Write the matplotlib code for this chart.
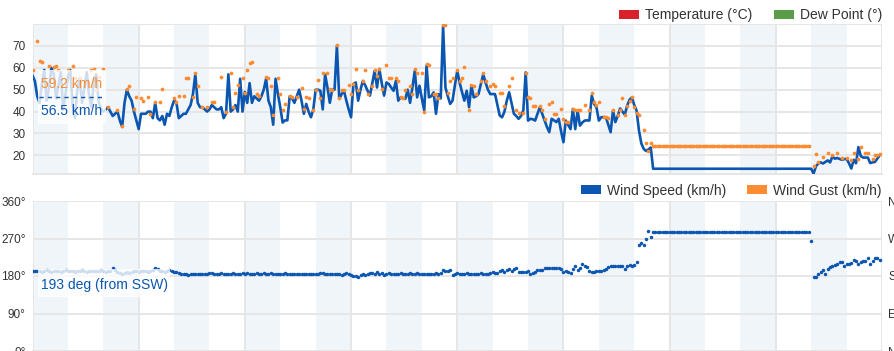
import numpy as np
import matplotlib.pyplot as plt
from matplotlib.patches import Rectangle
from matplotlib.lines import Line2D

plt.rcParams['font.family'] = ['Liberation Sans', 'DejaVu Sans']

STEP_H = 0.8          # hours between readings
SPAN_H = 288          # 12 days shown
N = None              # no gust reported

wind_speed = [
    56.5, 54, 47, 44, 53, 59, 45, 51, 60, 57,
    46, 52, 58, 41, 48, 56, 59, 43, 37, 50,
    55, 44, 51, 58, 47, 42, 54, 57, 45, 41,
    40, 41, 42, 40, 38, 39, 40, 36, 33, 44,
    50, 47, 45, 40, 36, 32, 39, 39, 39, 40,
    40, 37, 44, 37, 36, 38, 34, 39, 38, 42,
    45, 44, 37, 38, 39, 39, 41, 43, 48, 57,
    44, 42, 42, 41, 40, 41, 43, 42, 41, 41,
    42, 37, 39, 57, 40, 41, 43, 40, 55, 40,
    49, 44, 53, 44, 47, 46, 45, 47, 50, 55,
    45, 42, 34, 55, 48, 42, 35, 36, 36, 47,
    46, 44, 47, 50, 45, 39, 43.5, 40, 37.4, 41,
    50, 50, 49.5, 41, 57, 51, 44, 50, 50, 70,
    45.8, 48, 49.5, 45, 41, 37.4, 52.6, 53.3, 45, 50,
    54, 52, 49.5, 47.3, 53, 58.6, 51, 59.4, 53, 47.3,
    53.3, 52.6, 51, 49.5, 54, 45, 46.5, 46, 45.8, 50,
    44, 51, 58.6, 46.5, 51.8, 46, 40.5, 61, 46.5, 47,
    48.8, 39, 48, 46, 79, 51, 47, 43.5, 45, 52,
    58.6, 53.3, 49, 45, 49.5, 42, 51.8, 46.5, 47, 48,
    52.6, 57, 53.3, 50, 48, 48, 48, 43, 38.2, 37.4,
    40, 45, 48.8, 44, 39, 38, 36.7, 38, 40.5, 57.9,
    35.9, 36.7, 36.5, 35.9, 39, 42, 39, 35.9, 33, 30.6,
    36.7, 36, 35.2, 36.7, 31, 26, 35.9, 34, 32, 41.2,
    32, 40.5, 33.6, 35, 35.9, 36, 35.9, 47.3, 43.5, 42,
    35.9, 37.4, 37.5, 37.4, 34, 30.6, 40.5, 35.2, 38, 41.4,
    40, 38.6, 42.7, 45.4, 46.5, 43, 40.5, 31.4, 25.5, 23,
    22, 22.7, 23.6, 13.9, 13.9, 13.9, 13.9, 13.9, 13.9, 13.9,
    13.9, 13.9, 13.9, 13.9, 13.9, 13.9, 13.9, 13.9, 13.9, 13.9,
    13.9, 13.9, 13.9, 13.9, 13.9, 13.9, 13.9, 13.9, 13.9, 13.9,
    13.9, 13.9, 13.9, 13.9, 13.9, 13.9, 13.9, 13.9, 13.9, 13.9,
    13.9, 13.9, 13.9, 13.9, 13.9, 13.9, 13.9, 13.9, 13.9, 13.9,
    13.9, 13.9, 13.9, 13.9, 13.9, 13.9, 13.9, 13.9, 13.9, 13.9,
    13.9, 13.9, 13.9, 13.9, 13.9, 13.9, 13.9, 13.9, 13.9, 13.9,
    13.9, 11.7, 15, 16.3, 16.8, 16.3, 17, 17.7, 16.8, 19.5,
    18.5, 18.8, 18.4, 18, 18.3, 18.4, 16.4, 14, 18, 16.4,
    23.8, 19.7, 19, 19, 19, 16.5, 16.8, 17, 18.5, 20,
]

wind_gust = [
    59.2, N, 72.3, 63, 62.7, N, N, 61, N, 60.4,
    61, 59, N, N, N, 59, N, 61, 55.5, N,
    55.5, N, N, N, N, 59, 59.4, 49.7, 55.9, N,
    59.4, N, 42.3, N, N, N, 40.8, N, 33.6, N,
    50.2, 51.8, N, 41.2, 46.5, N, 46.2, 45, N, 46.5,
    39, N, 44.2, N, 44.2, 50.3, N, N, N, N,
    46.2, 44.2, 47, N, 47, 55.3, 55.3, N, 46.5, 57.4,
    51.8, N, 42.3, N, 42.3, N, 44.2, 44.2, N, N,
    55.9, N, 39.7, N, 57.4, 42.3, 48.3, 52.3, N, 55.3,
    48.3, 59, 62.3, 62.7, N, 48, 47.3, N, N, 55.6,
    55.3, 51.8, 38.6, N, 55.3, 48, 40.5, 43.3, N, 47.3,
    46.5, N, 46.5, N, 50.8, 41.2, 46.5, 46.2, N, 40.8,
    49.8, 54.4, 46.2, 57.6, N, 57.6, 50.3, 50, N, 70.3,
    46.2, 49.8, 49.8, N, 52.3, 48, 52.6, 59.4, 49.8, N,
    54, 59, 48, N, 51.8, 59, 56.4, 59.4, 50.3, N,
    61.2, 55.3, 55.3, N, 55.3, 53.8, 46.5, 46.2, 49.8, N,
    51.8, 48, 59.4, 57.6, N, 57.6, 39.7, 61.7, 61.4, N,
    48, 48, 46.2, N, 79.4, 79.5, 48.5, 54, 55.3, N,
    59, 53.8, 55.3, 60.2, N, 40.9, 52.3, 51.8, 48, N,
    53.8, 57.6, 53.8, N, 51.8, 52.6, 51.8, N, 48.3, 48.5,
    42.4, N, 51.8, 55.3, N, 40.8, 39.2, N, 39.2, 57.6,
    46.5, 46.2, 42.4, 42.4, N, 42.4, 40.8, 36.7, N, 43.5,
    44.5, 38.9, 38.9, N, 41.2, 36.7, 35.2, 35.2, N, 41.2,
    40.8, 40.8, 40.8, N, 43.2, N, 40.9, 48.5, 44.2, 43.2,
    44.5, N, 37.4, 37.4, 37, N, 40.9, N, 38.5, 40.9,
    46.2, 38.5, 42.7, 44.7, 46.5, 42, 39.2, 38.6, N, 31.4,
    25.8, 22, 25.8, 24.2, 24.2, 24.2, 24.2, 24.2, 24.2, 24.2,
    24.2, 24.2, 24.2, 24.2, 24.2, 24.2, 24.2, 24.2, 24.2, 24.2,
    24.2, 24.2, 24.2, 24.2, 24.2, 24.2, 24.2, 24.2, 24.2, 24.2,
    24.2, 24.2, 24.2, 24.2, 24.2, 24.2, 24.2, 24.2, 24.2, 24.2,
    24.2, 24.2, 24.2, 24.2, 24.2, 24.2, 24.2, 24.2, 24.2, 24.2,
    24.2, 24.2, 24.2, 24.2, 24.2, 24.2, 24.2, 24.2, 24.2, 24.2,
    24.2, 24.2, 24.2, 24.2, 24.2, 24.2, 24.2, 24.2, 24.2, 24.2,
    N, 15, 20.5, 17, N, 19.2, N, 21, N, 20,
    N, 21, N, 19, N, 19, N, 18, 21, N,
    18.5, 23.8, N, 21, 21, N, 18.5, 20, 20, 20.5,
]

wind_dir = [
    193, 192, 191, 193, 190, 192, 194, 191, 190, 192,
    193, 191, 190, 192, 194, 193, 191, 192, 190, 191,
    193, 194, 192, 190, 191, 193, 192, 191, 193, 194,
    192, 190, 191, 193, 200, 194, 190, 188, 186, 187,
    189, 187, 190, 192, 191, 190, 192, 193, 191, 190,
    192, 195, 199, 196, 191, 193, 190, 192, 195, 191,
    190, 189, 188, 186, 186, 185, 183, 185, 186, 185,
    185, 186, 185, 186, 186, 187, 188, 186, 186, 185,
    187, 186, 185, 186, 186, 187, 186, 184, 186, 187,
    186, 187, 186, 185, 186, 187, 185, 184, 187, 186,
    186, 188, 186, 185, 186, 184, 186, 187, 185, 185,
    186, 186, 185, 185, 186, 184, 186, 185, 186, 185,
    186, 186, 187, 188, 185, 186, 186, 186, 184, 186,
    186, 183, 185, 187, 185, 183, 181, 180, 178, 182,
    186, 183, 185, 187, 187, 186, 189, 185, 187, 182,
    186, 187, 186, 186, 185, 185, 187, 186, 185, 186,
    187, 185, 186, 187, 186, 186, 185, 185, 186, 186,
    186, 188, 186, 187, 194, 192, 193, 194, 183, 186,
    187, 186, 185, 186, 187, 186, 185, 186, 185, 186,
    187, 186, 185, 186, 187, 189, 187, 188, 192, 195,
    189, 194, 197, 193, 196, 200, 190, 189, 190, 190,
    191, 185, 188, 190, 194, 195, 194, 199, 200, 200,
    199, 200, 200, 199, 197, 190, 191, 189, 188, 196,
    203, 194, 200, 208, 203, 201, 193, 190, 190, 191,
    191, 193, 194, 197, 202, 204, 205, 204, 205, 204,
    205, 198, 205, 207, 205, 207, 213, 254, 260, 254,
    270, 289, 274, 286, 286, 286, 286, 286, 286, 286,
    286, 286, 286, 286, 286, 286, 286, 286, 286, 286,
    286, 286, 286, 286, 286, 286, 286, 286, 286, 286,
    286, 286, 286, 286, 286, 286, 286, 286, 286, 286,
    286, 286, 286, 286, 286, 286, 286, 286, 286, 286,
    286, 286, 286, 286, 286, 286, 286, 286, 286, 286,
    286, 286, 286, 286, 286, 286, 286, 286, 286, 286,
    264, 178, 178, 184, 190, 194, 185, 198, 202, 205,
    206, 209, 213, 213, 205, 208, 209, 212, 218, 216,
    210, 214, 216, 217, 224, 210, 216, 224, 224, 218,
]

speed_ticks = [20, 30, 40, 50, 60, 70, 80]
speed_ticklabels = ['20', '30', '40', '50', '60', '70', '']
dir_ticks = [0, 90, 180, 270, 360]
dir_ticklabels = ['0°', '90°', '180°', '270°', '360°']
compass_labels = ['N', 'E', 'S', 'W', 'N']

tip_gust = '59.2 km/h'
tip_speed = '56.5 km/h'
tip_dir = '193 deg (from SSW)'

BLUE = '#0b56b0'
ORANGE = '#fd8b31'
RED = '#d7212b'
GREEN = '#5b9c48'
BAND = '#f0f5fa'
GRID = '#e6e6e6'
TEXT = '#333333'

W, H = 895, 351
fig = plt.figure(figsize=(W / 100, H / 100), dpi=100)


def px_box(left, top, right, bottom):
    # pixel rectangle (origin top-left) -> figure fraction [l, b, w, h]
    return [left / W, 1 - bottom / H, (right - left) / W, (bottom - top) / H]


def fx(px):
    return px / W


def fy(py):
    return 1 - py / H


def style_axes(ax, ticks, labels):
    ax.set_xlim(0, SPAN_H)
    for start in range(0, SPAN_H, 24):
        ax.axvspan(start, start + 12, color=BAND, lw=0, zorder=0)
    ax.set_axisbelow(True)
    ax.set_xticks(range(0, SPAN_H + 1, 36))
    ax.set_yticks(ticks)
    ax.set_yticklabels(labels)
    ax.grid(True, color=GRID, lw=1.4)
    ax.tick_params(axis='x', length=0, labelbottom=False)
    ax.tick_params(axis='y', length=0, pad=5, labelsize=8.5, labelcolor=TEXT)
    for side in ['top', 'left', 'right']:
        ax.spines[side].set_visible(False)
    ax.spines['bottom'].set_color(GRID)
    ax.spines['bottom'].set_linewidth(1.4)


# wind speed / gust panel
ax1 = fig.add_axes(px_box(32.5, 24, 882, 174))
style_axes(ax1, speed_ticks, speed_ticklabels)
ax1.set_ylim(11.5, 80)
xs = np.arange(len(wind_speed)) * STEP_H
xg = np.arange(len(wind_gust)) * STEP_H
ax1.plot(xs, wind_speed, color=BLUE, lw=1.9, zorder=3, solid_joinstyle='round')
ax1.plot(xg, np.array(wind_gust, dtype=float), 'o', color=ORANGE, ms=2.7, mew=0, zorder=4)

# wind direction panel
ax2 = fig.add_axes(px_box(32.5, 201, 882, 351))
style_axes(ax2, dir_ticks, dir_ticklabels)
ax2.set_ylim(0, 360)
xd = np.arange(len(wind_dir)) * STEP_H
ax2.plot(xd, wind_dir, 'o', color=BLUE, ms=2.5, mew=0, zorder=3)

ax2r = ax2.twinx()
ax2r.set_ylim(0, 360)
ax2r.set_yticks(dir_ticks)
ax2r.set_yticklabels(compass_labels)
ax2r.tick_params(axis='y', length=0, pad=4.5, labelsize=8.5, labelcolor=TEXT)
for side in ['top', 'left', 'right', 'bottom']:
    ax2r.spines[side].set_visible(False)

# legends
legend_items = [
    (619, 10, 'Temperature (°C)', RED),
    (774, 10, 'Dew Point (°)', GREEN),
    (581, 185, 'Wind Speed (km/h)', BLUE),
    (747, 185, 'Wind Gust (km/h)', ORANGE),
]
for left, top, label, color in legend_items:
    fig.add_artist(Rectangle((fx(left), fy(top + 9)), 20 / W, 9 / H,
                             transform=fig.transFigure, facecolor=color,
                             edgecolor='none'))
    fig.text(fx(left + 26), fy(top + 9.5), label, fontsize=10, color=TEXT,
             va='baseline', ha='left')

# tooltips
fig.add_artist(Rectangle((fx(38), fy(124)), 68 / W, 54 / H, transform=fig.transFigure,
                         facecolor='white', alpha=0.8, edgecolor='none', zorder=10))
fig.text(fx(41), fy(88), tip_gust, fontsize=10, color=ORANGE, va='baseline', zorder=11)
fig.add_artist(Line2D([fx(39), fx(102)], [fy(96.5), fy(96.5)], transform=fig.transFigure,
                      color=BLUE, lw=1, ls=(0, (3, 3)), zorder=11))
fig.text(fx(41), fy(115), tip_speed, fontsize=10, color=BLUE, va='baseline', zorder=11)

fig.add_artist(Rectangle((fx(38), fy(297)), 132 / W, 28 / H, transform=fig.transFigure,
                         facecolor='white', alpha=0.8, edgecolor='none', zorder=10))
fig.text(fx(41), fy(289.5), tip_dir, fontsize=10, color=BLUE, va='baseline', zorder=11)

fig.savefig('out.png', dpi=100)
